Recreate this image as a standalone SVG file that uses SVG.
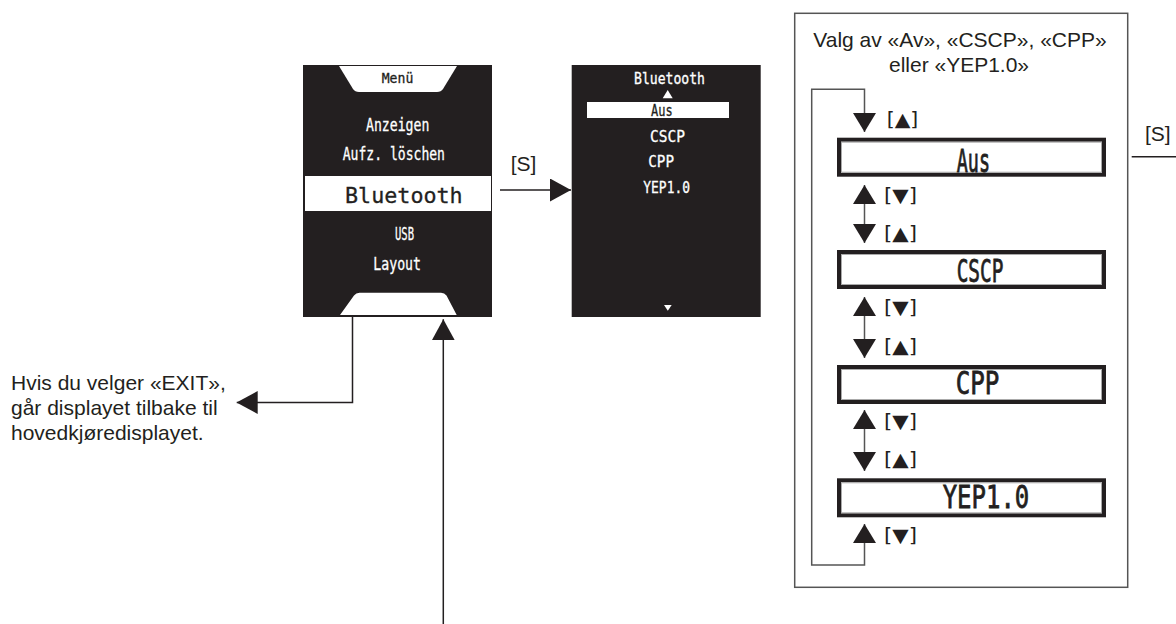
<svg xmlns="http://www.w3.org/2000/svg" width="1176" height="624" viewBox="0 0 1176 624">
<style>
.bg{fill:#fff}
.scr{fill:#231f20}
.wht{fill:#fff}
.lcd{font-family:"DejaVu Sans Mono",monospace;fill:#fff;stroke:#fff;stroke-width:0.3}
.lcdk{font-family:"DejaVu Sans Mono",monospace;fill:#231f20;stroke:#231f20;stroke-width:0.3}
.big{stroke-width:0.8}
.lbl{font-family:"Liberation Sans",Arial,sans-serif;font-size:21px;fill:#231f20}
.key{font-family:"DejaVu Sans",sans-serif;font-size:19px;fill:#231f20}
.conn{stroke:#231f20;stroke-width:1.5;fill:none}
.loop{stroke:#555;stroke-width:1.5;fill:none}
.item{fill:#fff;stroke:#231f20;stroke-width:4}
.itemin{fill:none;stroke:#aaa;stroke-width:1}
.frame{fill:none;stroke:#555;stroke-width:1.5}
</style>
<defs>
<marker id="ah" markerUnits="userSpaceOnUse" markerWidth="21" markerHeight="23" viewBox="0 0 21 23" refX="21" refY="11.5" orient="auto-start-reverse">
<path d="M0,0 L21,11.5 L0,23 Z" fill="#231f20"/>
</marker>
<marker id="ah2" markerUnits="userSpaceOnUse" markerWidth="19" markerHeight="23" viewBox="0 0 19 23" refX="19" refY="11.5" orient="auto-start-reverse">
<path d="M0,0 L19,11.5 L0,23 Z" fill="#231f20"/>
</marker>
</defs>
<rect class="bg" x="0" y="0" width="1176" height="624"/>

<g id="menu-screen">
<rect class="scr" x="303" y="65" width="189" height="252"/>
<path class="wht" d="M339,66 L457,66 L443,89 Q441,92 437,92 L359,92 Q355,92 353,89 Z"/>
<text class="lcdk" x="381.7" y="83.3" font-size="13.5" textLength="31.6" lengthAdjust="spacingAndGlyphs">Menü</text>
<text class="lcd" x="366" y="130.5" font-size="17" textLength="63.3" lengthAdjust="spacingAndGlyphs">Anzeigen</text>
<text class="lcd" x="342.7" y="160" font-size="17" textLength="102.3" lengthAdjust="spacingAndGlyphs">Aufz. löschen</text>
<rect class="wht" x="305" y="176" width="186" height="35"/>
<text class="lcdk" x="345" y="203.3" font-size="22" textLength="117.7" lengthAdjust="spacingAndGlyphs">Bluetooth</text>
<text class="lcd" x="395" y="239.5" font-size="17" textLength="19" lengthAdjust="spacingAndGlyphs">USB</text>
<text class="lcd" x="373.3" y="270" font-size="17" textLength="47.7" lengthAdjust="spacingAndGlyphs">Layout</text>
<path class="wht" d="M340,315 L354,295.5 Q356,292.7 359.5,292.7 L441,292.7 Q444.5,292.7 446.5,295.5 L456.7,315 Z"/>
</g>

<g id="bluetooth-screen">
<rect class="scr" x="571.7" y="65" width="189" height="252"/>
<text class="lcd" x="634" y="84" font-size="15" textLength="71" lengthAdjust="spacingAndGlyphs">Bluetooth</text>
<polygon class="wht" points="662.7,98.3 667.7,90 672.7,98.3"/>
<rect class="wht" x="587" y="102" width="142" height="16"/>
<text class="lcdk" x="651" y="116" font-size="16" textLength="21.7" lengthAdjust="spacingAndGlyphs">Aus</text>
<text class="lcd" x="650" y="141.7" font-size="16" textLength="35" lengthAdjust="spacingAndGlyphs">CSCP</text>
<text class="lcd" x="648.3" y="166.7" font-size="16" textLength="25.7" lengthAdjust="spacingAndGlyphs">CPP</text>
<text class="lcd" x="643.3" y="193.3" font-size="16" textLength="46.7" lengthAdjust="spacingAndGlyphs">YEP1.0</text>
<polygon class="wht" points="664,305 671.7,305 667.8,310.7"/>
</g>

<g id="exit-note">
<text class="lbl" x="11" y="390">Hvis du velger «EXIT»,</text>
<text class="lbl" x="11" y="415">går displayet tilbake til</text>
<text class="lbl" x="11" y="440">hovedkjøredisplayet.</text>
</g>

<g id="selection-box">
<rect class="frame" x="794.7" y="13.3" width="333" height="574"/>
<text class="lbl" x="960" y="46.7" text-anchor="middle">Valg av «Av», «CSCP», «CPP»</text>
<text class="lbl" x="959" y="71.7" text-anchor="middle">eller «YEP1.0»</text>
</g>

<g id="item-aus">
<rect class="item" x="839" y="139.7" width="265" height="35"/>
<rect class="itemin" x="841.5" y="142.2" width="260" height="30"/>
<text class="lcdk big" x="956.7" y="171.6" font-size="31.5" textLength="33.3" lengthAdjust="spacingAndGlyphs">Aus</text>
</g>
<g id="item-cscp">
<rect class="item" x="839" y="252" width="265" height="35"/>
<rect class="itemin" x="841.5" y="254.5" width="260" height="30"/>
<text class="lcdk big" x="956.7" y="281.7" font-size="31.5" textLength="46.7" lengthAdjust="spacingAndGlyphs">CSCP</text>
</g>
<g id="item-cpp">
<rect class="item" x="839" y="367" width="265" height="35"/>
<rect class="itemin" x="841.5" y="369.5" width="260" height="30"/>
<text class="lcdk big" x="955.7" y="394" font-size="31.5" textLength="43.6" lengthAdjust="spacingAndGlyphs">CPP</text>
</g>
<g id="item-yep">
<rect class="item" x="839" y="480.3" width="265" height="35"/>
<rect class="itemin" x="841.5" y="482.8" width="260" height="30"/>
<text class="lcdk big" x="942.7" y="508.3" font-size="31.5" textLength="86.6" lengthAdjust="spacingAndGlyphs">YEP1.0</text>
</g>

<g id="connectors">
<path class="conn" d="M500,190 L571,190" marker-end="url(#ah)"/>
<path class="conn" d="M352.5,317 L352.5,402.5 L236.7,402.5" marker-end="url(#ah)"/>
<path class="conn" d="M443.3,624 L443.3,319.3" marker-end="url(#ah)"/>
<path class="conn" d="M1131.7,156.7 L1176,156.7"/>
<path class="loop" d="M864.5,524 L864.5,565 L811.7,565 L811.7,89.3 L864.5,89.3 L864.5,132" marker-start="url(#ah2)" marker-end="url(#ah2)"/>
<path class="loop" d="M864.5,185 L864.5,243" marker-start="url(#ah2)" marker-end="url(#ah2)"/>
<path class="loop" d="M864.5,297 L864.5,358" marker-start="url(#ah2)" marker-end="url(#ah2)"/>
<path class="loop" d="M864.5,410 L864.5,471" marker-start="url(#ah2)" marker-end="url(#ah2)"/>
</g>

<g id="labels">
<text class="lbl" x="510.7" y="170.5">[S]</text>
<text class="lbl" x="1145" y="141">[S]</text>
<text class="key" x="886.7" y="125.5" textLength="31.6" lengthAdjust="spacingAndGlyphs">[▲]</text>
<text class="key" x="884" y="201.5" textLength="33" lengthAdjust="spacingAndGlyphs">[▼]</text>
<text class="key" x="884" y="239.5" textLength="33" lengthAdjust="spacingAndGlyphs">[▲]</text>
<text class="key" x="884" y="314" textLength="33" lengthAdjust="spacingAndGlyphs">[▼]</text>
<text class="key" x="884" y="352.5" textLength="33" lengthAdjust="spacingAndGlyphs">[▲]</text>
<text class="key" x="884" y="427.5" textLength="33" lengthAdjust="spacingAndGlyphs">[▼]</text>
<text class="key" x="884" y="465.8" textLength="33" lengthAdjust="spacingAndGlyphs">[▲]</text>
<text class="key" x="884" y="542" textLength="33" lengthAdjust="spacingAndGlyphs">[▼]</text>
</g>
</svg>
